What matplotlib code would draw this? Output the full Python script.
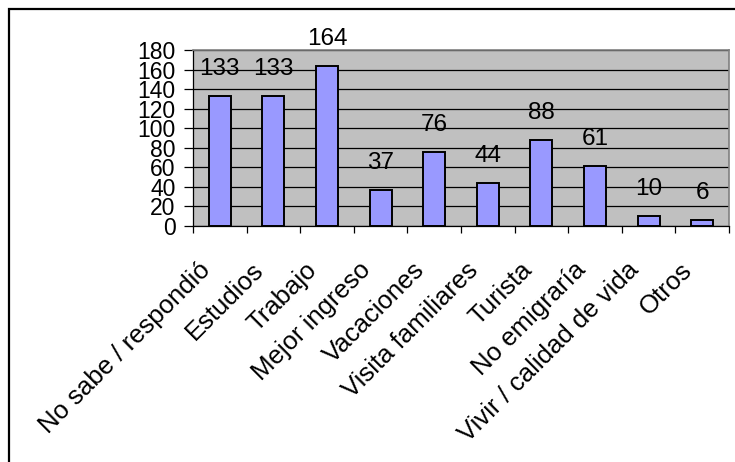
import numpy as np
import matplotlib.pyplot as plt
from matplotlib.patches import Rectangle
from matplotlib.transforms import ScaledTranslation

categorias = ["No sabe / respondió", "Estudios", "Trabajo", "Mejor ingreso",
              "Vacaciones", "Visita familiares", "Turista", "No emigraría",
              "Vivir / calidad de vida", "Otros"]
valores = [133, 133, 164, 37, 76, 44, 88, 61, 10, 6]
y_ticks = list(range(0, 181, 20))

plt.rcParams['font.family'] = ['Liberation Sans', 'DejaVu Sans']

W, H = 735, 462
fig = plt.figure(figsize=(W / 100, H / 100), dpi=100)

# marco exterior (cortado a la derecha y abajo)
fig.patches.append(Rectangle((9 / W, -0.1), 1.2, 1 - 9 / H + 0.1,
                             transform=fig.transFigure, fill=False,
                             edgecolor='black', linewidth=1.6))

ax = fig.add_axes([193 / W, 1 - 226 / H, (729 - 193) / W, (226 - 50) / H])
ax.set_facecolor('#C0C0C0')

x = np.arange(len(categorias))
ax.bar(x, valores, width=0.41, color='#9999FF', edgecolor='black',
       linewidth=1.4, zorder=3)

for xi, v in zip(x, valores):
    ax.annotate(str(v), (xi, v), xytext=(0, 19.5), textcoords='offset points',
                ha='center', va='center', fontsize=17.5, zorder=4)

ax.set_xlim(-0.5, len(categorias) - 0.5)
ax.set_ylim(0, 180)
ax.set_yticks(y_ticks)
ax.yaxis.grid(True, color='black', linewidth=0.9)
ax.set_axisbelow(True)
ax.tick_params(axis='y', direction='out', length=6.5, width=0.9,
               labelsize=16.5, pad=6)

ax.set_xticks(x)
ax.set_xticklabels(categorias, rotation=45, ha='right', va='top',
                   rotation_mode='anchor', fontsize=18.5)
ax.tick_params(axis='x', which='major', length=0, pad=23)
ax.set_xticks(np.arange(-0.5, len(categorias), 1), minor=True)
ax.tick_params(axis='x', which='minor', direction='out', length=5, width=0.9)
off = ScaledTranslation(-22 / 100, 0, fig.dpi_scale_trans)
for lab in ax.get_xticklabels():
    lab.set_transform(lab.get_transform() + off)

for s in ['top', 'right']:
    ax.spines[s].set_color('#808080')
    ax.spines[s].set_linewidth(1.2)
for s in ['left', 'bottom']:
    ax.spines[s].set_color('black')
    ax.spines[s].set_linewidth(0.9)

fig.savefig('out.png', dpi=100)
